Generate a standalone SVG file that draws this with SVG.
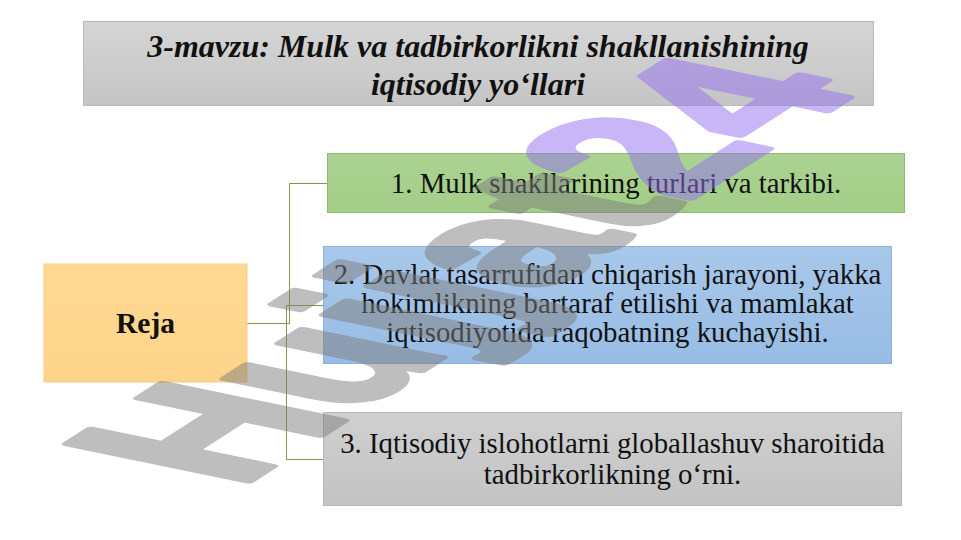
<svg xmlns="http://www.w3.org/2000/svg" width="961" height="540" viewBox="0 0 961 540">
<defs>
<linearGradient id="gTitle" x1="0" y1="0" x2="0" y2="1"><stop offset="0" stop-color="#d5d5d5"/><stop offset="1" stop-color="#c5c5c5"/></linearGradient>
<linearGradient id="gGreen" x1="0" y1="0" x2="0" y2="1"><stop offset="0" stop-color="#abd392"/><stop offset="1" stop-color="#a2cd87"/></linearGradient>
<linearGradient id="gBlue" x1="0" y1="0" x2="0" y2="1"><stop offset="0" stop-color="#a8c8ea"/><stop offset="1" stop-color="#98bce4"/></linearGradient>
<linearGradient id="gGray" x1="0" y1="0" x2="0" y2="1"><stop offset="0" stop-color="#d0d0d0"/><stop offset="1" stop-color="#c3c3c3"/></linearGradient>
<linearGradient id="gOrange" x1="0" y1="0" x2="0" y2="1"><stop offset="0" stop-color="#ffd993"/><stop offset="1" stop-color="#fdd48a"/></linearGradient>
</defs>
<style>
.box{stroke-width:1}
.t{font-family:"Liberation Serif","Times New Roman",serif;font-size:28.8px;fill:#111;text-anchor:middle}
.title{font-family:"Liberation Serif","Times New Roman",serif;font-size:32px;font-weight:bold;font-style:italic;fill:#111;text-anchor:middle}
.reja{font-family:"Liberation Serif","Times New Roman",serif;font-size:29.5px;font-weight:bold;fill:#111;text-anchor:middle}
.conn{fill:none;stroke:#7f9a45;stroke-width:1}
.wm{font-family:"Liberation Sans",Arial,sans-serif;font-weight:bold;font-size:100px;stroke-width:4;stroke-linejoin:round}
</style>
<rect width="961" height="540" fill="#ffffff"/>
<g id="title">
<rect x="83.5" y="21.5" width="790" height="84" fill="url(#gTitle)" stroke="#b8b8b8" class="box"/>
<text class="title" x="478" y="57">3-mavzu: Mulk va tadbirkorlikni shakllanishining</text>
<text class="title" x="478" y="95">iqtisodiy yo‘llari</text>
</g>
<g id="connectors">
<path class="conn" d="M247 323.5H289.5V183.5H327"/>
<path class="conn" d="M323 305.5H286.5V459.5H323"/>
</g>
<g id="reja">
<rect x="44" y="264" width="203" height="118" fill="url(#gOrange)" stroke="#f5cf85" class="box"/>
<text class="reja" x="145.5" y="333">Reja</text>
</g>
<g id="item1">
<rect x="327.5" y="153.5" width="577" height="59" fill="url(#gGreen)" stroke="#8fb872" class="box"/>
<text class="t" x="616" y="193">1. Mulk shakllarining turlari va tarkibi.</text>
</g>
<g id="item2">
<rect x="323.5" y="246.5" width="568" height="117" fill="url(#gBlue)" stroke="#8fb0d8" class="box"/>
<text class="t" x="607.5" y="284">2. Davlat tasarrufidan chiqarish jarayoni, yakka</text>
<text class="t" x="607.5" y="313">hokimlikning bartaraf etilishi va mamlakat</text>
<text class="t" x="607.5" y="342">iqtisodiyotida raqobatning kuchayishi.</text>
</g>
<g id="item3">
<rect x="323.5" y="412.5" width="578" height="93" fill="url(#gGray)" stroke="#b5b5b5" class="box"/>
<text class="t" x="612.5" y="453">3. Iqtisodiy islohotlarni globallashuv sharoitida</text>
<text class="t" x="612.5" y="484">tadbirkorlikning o‘rni.</text>
</g>
<g id="watermark" opacity="0.5">
<text class="wm" transform="matrix(1.61,-1.03,2.63,0.54,238,488)" fill="#7f7f7f" stroke="#7f7f7f">Hujjat<tspan fill="#9470f0" stroke="#9470f0">24</tspan></text>
</g>
</svg>
